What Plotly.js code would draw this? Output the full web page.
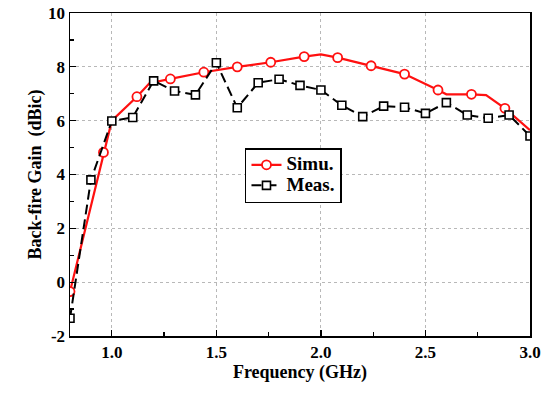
<!DOCTYPE html>
<html>
<head>
<meta charset="utf-8">
<script src="https://cdn.plot.ly/plotly-3.0.1.min.js"></script>
<style>html,body{margin:0;padding:0;background:#fff;}#chart{width:553px;height:394px;}</style>
</head>
<body>
<div id="chart"></div>
<script>
// Simulated back-fire gain (dense curve) in GHz / dBic
var simuFreq = [0.8, 0.96, 1.0, 1.12, 1.18, 1.28, 1.44, 1.6, 1.76, 1.92, 2.0, 2.08, 2.24, 2.4, 2.56, 2.6, 2.72, 2.79, 2.88, 3.0];
var simuGain = [-0.35, 4.82, 6.0, 6.89, 7.39, 7.55, 7.8, 8.0, 8.17, 8.38, 8.46, 8.34, 8.04, 7.73, 7.14, 6.98, 6.98, 6.95, 6.46, 5.65];
// indices of simulated points that carry a circle marker
var simuMarkerIdx = [0, 1, 3, 5, 6, 7, 8, 9, 11, 12, 13, 14, 16, 18];
// Measured back-fire gain
var measFreq = [0.8, 0.9, 1.0, 1.1, 1.2, 1.3, 1.4, 1.5, 1.6, 1.7, 1.8, 1.9, 2.0, 2.1, 2.2, 2.3, 2.4, 2.5, 2.6, 2.7, 2.8, 2.9, 3.0];
var measGain = [-1.34, 3.8, 5.99, 6.12, 7.48, 7.1, 6.96, 8.15, 6.48, 7.41, 7.54, 7.31, 7.14, 6.57, 6.15, 6.54, 6.5, 6.27, 6.67, 6.21, 6.09, 6.21, 5.43];
var seriesNames = ['Simu.', 'Meas.'];
var xTickVals = [1.0, 1.5, 2.0, 2.5, 3.0];
var xTickText = ['1.0', '1.5', '2.0', '2.5', '3.0'];
var yTickVals = [-2, 0, 2, 4, 6, 8, 10];
var yTickText = ['-2', '0', '2', '4', '6', '8', '10'];

var FONT = '"Liberation Serif", "Times New Roman", Times, serif';
var RED = '#ff1010';

var simuMarkF = simuMarkerIdx.map(function(i){return simuFreq[i];});
var simuMarkG = simuMarkerIdx.map(function(i){return simuGain[i];});

function legendLabel(s){ return '<span style="font-size:19px">' + s + '</span>'; }

var traces = [
  {x: simuFreq, y: simuGain, mode: 'lines', showlegend: false, hoverinfo: 'skip',
   line: {color: RED, width: 2.2}},
  {x: simuMarkF, y: simuMarkG, mode: 'markers', showlegend: false,
   marker: {symbol: 'circle', size: 9, color: '#ffffff', line: {color: RED, width: 1.8}}},
  {x: measFreq, y: measGain, mode: 'lines', showlegend: false, hoverinfo: 'skip',
   line: {color: '#000000', width: 2, dash: '10px,5px'}},
  {x: measFreq, y: measGain, mode: 'markers', showlegend: false,
   marker: {symbol: 'square', size: 8, color: '#ffffff', line: {color: '#000000', width: 1.6}}},
  // legend entries
  {x: [null], y: [null], mode: 'lines+markers', name: legendLabel(seriesNames[0]),
   line: {color: RED, width: 2.2},
   marker: {symbol: 'circle', size: 9, color: '#ffffff', line: {color: RED, width: 1.8}}},
  {x: [null], y: [null], mode: 'lines+markers', name: legendLabel(seriesNames[1]),
   line: {color: '#000000', width: 2, dash: '10px,5px'},
   marker: {symbol: 'square', size: 8, color: '#ffffff', line: {color: '#000000', width: 1.6}}}
];

var layout = {
  width: 553, height: 394,
  margin: {l: 70, r: 23, t: 13, b: 58},
  paper_bgcolor: '#ffffff', plot_bgcolor: '#ffffff',
  font: {family: FONT, size: 17, color: '#000', weight: 'bold'},
  showlegend: true,
  legend: {x: 0.3804, y: 0.582, xanchor: 'left', yanchor: 'top',
    bordercolor: '#000', borderwidth: 1.5, bgcolor: '#fff',
    font: {family: FONT, size: 13.5, color: '#000', weight: 'bold'},
    tracegroupgap: 0},
  xaxis: {range: [0.8, 3.0], tickvals: xTickVals, ticktext: xTickText,
    ticks: 'inside', ticklen: 6, tickwidth: 1.3, tickcolor: '#000',
    minor: {dtick: 0.25, tick0: 1.0, ticks: 'inside', ticklen: 4, tickwidth: 1.2, tickcolor: '#000', showgrid: false},
    showline: true, linecolor: '#000', linewidth: 1.5, mirror: true,
    showgrid: true, gridcolor: '#b8b8b8', griddash: 'dot', gridwidth: 1,
    zeroline: false,
    tickfont: {family: FONT, size: 17, color: '#000', weight: 'bold'},
    title: {text: 'Frequency (GHz)', font: {family: FONT, size: 18, color: '#000', weight: 'bold'}, standoff: 2}},
  yaxis: {range: [-2, 10], tickvals: yTickVals, ticktext: yTickText,
    ticks: 'inside', ticklen: 6, tickwidth: 1.3, tickcolor: '#000',
    minor: {dtick: 1, tick0: 0, ticks: 'inside', ticklen: 4, tickwidth: 1.2, tickcolor: '#000', showgrid: false},
    showline: true, linecolor: '#000', linewidth: 1.5, mirror: true,
    showgrid: true, gridcolor: '#b8b8b8', griddash: 'dot', gridwidth: 1,
    zeroline: false,
    tickfont: {family: FONT, size: 17, color: '#000', weight: 'bold'},
    title: {text: 'Back-fire Gain \u00a0(dBic)', font: {family: FONT, size: 18, color: '#000', weight: 'bold'}, standoff: 2}}
};

Plotly.newPlot('chart', traces, layout, {displayModeBar: false, staticPlot: true});
</script>
</body>
</html>
